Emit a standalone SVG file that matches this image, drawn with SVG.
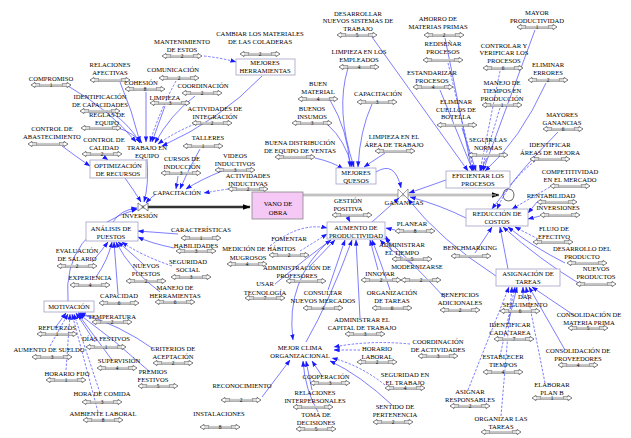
<svg xmlns="http://www.w3.org/2000/svg" width="631" height="438" viewBox="0 0 631 438">
<defs>
<style>
text{font-family:"Liberation Serif","Times New Roman",serif;font-size:6.6px;fill:#000;text-anchor:middle}
.n{font-size:5.3px}
.c{fill:none;stroke:#4646ff;stroke-width:0.7;marker-end:url(#a)}
.d{stroke-dasharray:2.5,1.5}
.bx{fill:#fff;stroke:#a0a0c4;stroke-width:0.8}
</style>
<marker id="a" viewBox="0 0 8 6" refX="7.5" refY="3" markerWidth="6" markerHeight="4.5" orient="auto" markerUnits="userSpaceOnUse"><path d="M0,0L8,3L0,6z" fill="#1a1aff"/></marker>
<marker id="k" viewBox="0 0 8 6" refX="7.5" refY="3" markerWidth="8" markerHeight="6" orient="auto" markerUnits="userSpaceOnUse"><path d="M0,0L8,3L0,6z" fill="#000"/></marker>
<symbol id="s" viewBox="0 0 40 6" width="40" height="6" overflow="visible">
<path d="M0,3L4,0.4V1.8H9V4.2H4V5.6Z M40,3L36,0.4V1.8H31V4.2H36V5.6Z" fill="#fff" stroke="#000" stroke-width="0.5"/>
<rect x="9" y="1.9" width="22" height="2.2" fill="#c8c8c8"/>
<path d="M9,4.4H31" stroke="#555" stroke-width="0.5"/>
</symbol>
</defs>
<rect width="631" height="438" fill="#fff"/>

<g id="flows">
<path d="M138,207H250" stroke="#333" stroke-width="2.6" fill="none" marker-end="url(#k)"/>
<path d="M303,195H499" stroke="#9a9a9a" stroke-width="2.4" fill="none" marker-end="url(#k)"/>
<path d="M303,195H496" stroke="#fff" stroke-width="0.8" fill="none"/>
<path d="M505,190q-4,5 0,10M512,190q4,5 0,10M505,190q3.5,-2 7,0M505,200q3.5,2 7,0" stroke="#000" stroke-width="0.6" fill="#fff"/>
<path d="M398,189L408,199L408,189L398,199Z" fill="#fff" stroke="#777" stroke-width="0.7"/>
<path d="M138,203L148,211L148,203L138,211Z" fill="#fff" stroke="#555" stroke-width="0.7"/>
</g>

<g id="connectors">
<path class="c" d="M68,86Q110,110 136,142"/>
<path class="c" d="M120,82Q132,110 140,142"/>
<path class="c d" d="M176,81Q160,110 150,142"/>
<path class="c" d="M146,92L146,142"/>
<path class="c" d="M165,106Q158,125 152,142"/>
<path class="c" d="M195,96Q170,115 155,143"/>
<path class="c d" d="M195,124Q175,132 158,144"/>
<path class="c" d="M262,76Q220,120 162,146"/>
<path class="c" d="M112,113Q130,125 140,143"/>
<path class="c" d="M118,128Q132,132 142,143"/>
<path class="c d" d="M204,56Q222,58 236,62"/>
<path class="c" d="M62,146Q78,158 90,166"/>
<path class="c" d="M104,157L108,160"/>
<path class="c" d="M147,159Q149,185 144,202"/>
<path class="c" d="M125,178Q135,192 141,202"/>
<path class="c" d="M156,194Q150,198 146,203"/>
<path class="c" d="M200,149Q188,170 180,189"/>
<path class="c" d="M178,176L176,189"/>
<path class="c" d="M222,171Q200,180 186,189"/>
<path class="c d" d="M228,189Q215,191 204,193"/>
<path class="c" d="M113,222Q120,210 137,208"/>
<path class="c" d="M68,301Q62,232 137,209"/>
<path class="c" d="M92,262Q102,250 108,242"/>
<path class="c" d="M96,277Q108,260 112,242"/>
<path class="c" d="M143,264Q128,250 118,242"/>
<path class="c" d="M178,234L138,231"/>
<path class="c" d="M174,248Q150,243 138,237"/>
<path class="c d" d="M172,266Q140,255 122,242"/>
<path class="c" d="M160,292Q130,270 116,242"/>
<path class="c" d="M118,294Q116,268 114,242"/>
<path class="c" d="M92,318L78,313"/>
<path class="c" d="M55,328L66,313"/>
<path class="c" d="M95,342L76,313"/>
<path class="c d" d="M50,346L68,314"/>
<path class="c" d="M112,360L78,314"/>
<path class="c d" d="M66,370L70,314"/>
<path class="c" d="M155,350Q120,325 80,313"/>
<path class="c" d="M150,372Q115,340 79,314"/>
<path class="c d" d="M100,393L74,314"/>
<path class="c d" d="M98,412L72,314"/>
<path class="c" d="M330,100Q348,130 350,167"/>
<path class="c" d="M328,125Q345,140 352,167"/>
<path class="c" d="M348,68Q335,110 354,167"/>
<path class="c" d="M372,104Q360,130 358,167"/>
<path class="c" d="M315,158Q333,162 343,169"/>
<path class="c" d="M385,153L364,167"/>
<path class="c" d="M376,172Q395,160 401,188"/>
<path class="c" d="M372,37L468,171"/>
<path class="c" d="M445,38L472,171"/>
<path class="c d" d="M448,63L474,171"/>
<path class="c" d="M440,90L473,171"/>
<path class="c" d="M462,128L476,171"/>
<path class="c d" d="M500,71L480,171"/>
<path class="c d" d="M500,108L481,171"/>
<path class="c" d="M535,30L483,171"/>
<path class="c" d="M546,83Q520,140 485,171"/>
<path class="c" d="M487,158L480,171"/>
<path class="c" d="M446,180L409,193"/>
<path class="c d" d="M535,161Q510,180 497,209"/>
<path class="c" d="M558,132Q520,170 492,209"/>
<path class="c d" d="M550,187L512,209"/>
<path class="c" d="M537,202L528,213"/>
<path class="c" d="M540,216L528,219"/>
<path class="c d" d="M538,239L515,227"/>
<path class="c" d="M565,263Q530,245 508,227"/>
<path class="c" d="M580,284Q540,260 503,227"/>
<path class="c" d="M475,253L492,227"/>
<path class="c" d="M466,218Q440,205 410,197"/>
<path class="c" d="M508,269L500,227"/>
<path class="c" d="M496,276Q440,240 408,199"/>
<path class="c" d="M523,298L523,287"/>
<path class="c" d="M575,316L532,287"/>
<path class="c" d="M508,324L517,287"/>
<path class="c" d="M565,350L529,287"/>
<path class="c d" d="M500,356L515,287"/>
<path class="c d" d="M545,383L526,287"/>
<path class="c d" d="M501,416L512,287"/>
<path class="c d" d="M468,390L509,287"/>
<path class="c" d="M372,222L399,198"/>
<path class="c" d="M348,218L350,222"/>
<path class="c" d="M395,230L386,228"/>
<path class="c" d="M392,252L386,236"/>
<path class="c" d="M412,264Q390,250 380,240"/>
<path class="c" d="M378,270L370,240"/>
<path class="c" d="M390,290Q380,260 372,240"/>
<path class="c" d="M360,318L356,240"/>
<path class="c" d="M328,290L345,240"/>
<path class="c" d="M310,266L335,240"/>
<path class="c" d="M275,284Q310,255 331,240"/>
<path class="c d" d="M300,251Q318,240 327,234"/>
<path class="c d" d="M270,246Q300,222 327,228"/>
<path class="c" d="M445,298Q410,260 385,238"/>
<path class="c" d="M306,342Q330,300 352,240"/>
<path class="c" d="M330,240Q285,280 293,340"/>
<path class="c" d="M262,397L290,360"/>
<path class="c" d="M322,376L312,361"/>
<path class="c" d="M312,390L306,361"/>
<path class="c" d="M318,412Q305,390 303,361"/>
<path class="c" d="M392,405Q360,375 330,361"/>
<path class="c d" d="M385,385Q360,365 332,358"/>
<path class="c d" d="M360,350L334,350"/>
<path class="c d" d="M410,344Q370,340 334,347"/>
</g>

<g id="compromiso"><text x="51" y="80.5">COMPROMISO</text><use href="#s" x="31" y="82"/><text class="n" x="51" y="87">1</text></g>
<g id="relaciones-afectivas"><text x="110" y="67">RELACIONES</text><text x="110" y="74.5">AFECTIVAS</text><use href="#s" x="90" y="77"/></g>
<g id="comunicacion"><text x="173" y="71.5">COMUNICACIÓN</text><use href="#s" x="159" y="75"/><text class="n" x="179" y="80">2</text></g>
<g id="cohesion"><text x="141" y="84.5">COHESIÓN</text><use href="#s" x="125" y="86"/><text class="n" x="145" y="91">8</text></g>
<g id="mantenimiento"><text x="182" y="44">MANTENIMIENTO</text><text x="182" y="51.5">DE ESTOS</text><use href="#s" x="162" y="53"/><text class="n" x="182" y="58">2</text></g>
<g id="cambiar"><text x="260" y="35.5">CAMBIAR LOS MATERIALES</text><text x="260" y="43.5">DE LAS COLADERAS</text><use href="#s" x="240" y="51"/><text class="n" x="260" y="56">2</text></g>
<g id="mejores-herramientas"><rect class="bx" x="236" y="59" width="59" height="16"/><text x="265" y="65">MEJORES</text><text x="265" y="72.5">HERRAMIENTAS</text></g>
<g id="identificacion"><text x="100" y="99">IDENTIFICACIÓN</text><text x="100" y="106.5">DE CAPACIDADES</text><use href="#s" x="80" y="108"/></g>
<g id="reglas"><text x="107" y="117">REGLAS DE</text><text x="107" y="124.5">EQUIPO</text><use href="#s" x="81" y="125"/></g>
<g id="limpieza"><text x="165" y="99.5">LIMPIEZA</text><use href="#s" x="150" y="100"/><text class="n" x="170" y="105">3</text></g>
<g id="coordinacion"><text x="203" y="87.5">COORDINACIÓN</text><use href="#s" x="182" y="90"/><text class="n" x="202" y="95">2</text></g>
<g id="act-integracion"><text x="215" y="110.5">ACTIVIDADES DE</text><text x="215" y="119">INTEGRACIÓN</text><use href="#s" x="192" y="120"/><text class="n" x="212" y="125">2</text></g>
<g id="talleres"><text x="208" y="139.5">TALLERES</text><use href="#s" x="183" y="143"/><text class="n" x="203" y="148">1</text></g>
<g id="control-abastecimiento"><text x="52" y="130.5">CONTROL DE</text><text x="52" y="139">ABASTECIMIENTO</text><use href="#s" x="28" y="141"/></g>
<g id="control-calidad"><text x="104" y="142">CONTROL DE</text><text x="104" y="149.5">CALIDAD</text><use href="#s" x="82" y="151"/><text class="n" x="102" y="156">2</text></g>
<g id="trabajo-equipo"><text x="147" y="150">TRABAJO EN</text><text x="147" y="157.5">EQUIPO</text></g>
<g id="optimizacion"><rect class="bx" x="90" y="160" width="56" height="18"/><text x="118" y="167.5">OPTIMIZACIÓN</text><text x="118" y="175.5">DE RECURSOS</text></g>
<g id="cursos"><text x="182" y="160.5">CURSOS DE</text><text x="182" y="168.5">INDUCCIÓN</text><use href="#s" x="161" y="170"/><text class="n" x="181" y="175">3</text></g>
<g id="videos"><text x="235" y="157.5">VIDEOS</text><text x="235" y="165.5">INDUCTIVOS</text><use href="#s" x="215" y="167"/><text class="n" x="235" y="172">3</text></g>
<g id="act-inductivas"><text x="248" y="177.5">ACTIVIDADES</text><text x="248" y="185.5">INDUCTIVAS</text><use href="#s" x="228" y="186"/><text class="n" x="248" y="191">2</text></g>
<g id="capacitacion"><text x="177" y="194.5">CAPACITACIÓN</text></g>
<g id="vano-obra"><rect x="252" y="192" width="51" height="27" fill="#f6c8f6" stroke="#888" stroke-width="0.8"/><text x="278" y="205.5">VANO DE</text><text x="278" y="214.5">OBRA</text></g>
<g id="inversion"><text x="140" y="217.5">INVERSIÓN</text></g>
<g id="analisis"><rect class="bx" x="86" y="222" width="52" height="19"/><text x="111" y="230.5">ANÁLISIS DE</text><text x="111" y="238.5">PUESTOS</text></g>
<g id="caracteristicas"><text x="201" y="231.5">CARACTERÍSTICAS</text><use href="#s" x="181" y="235"/><text class="n" x="201" y="240">1</text></g>
<g id="habilidades"><text x="196" y="247.5">HABILIDADES</text><use href="#s" x="176" y="248"/><text class="n" x="196" y="253">3</text></g>
<g id="evaluacion"><text x="77" y="252.5">EVALUACIÓN</text><text x="77" y="260.5">DE SALARIO</text><use href="#s" x="57" y="263"/><text class="n" x="77" y="268">2</text></g>
<g id="seguridad-social"><text x="188" y="264">SEGURIDAD</text><text x="188" y="271.5">SOCIAL</text><use href="#s" x="171" y="274"/><text class="n" x="191" y="279">3</text></g>
<g id="nuevos-puestos"><text x="146" y="268">NUEVOS</text><text x="146" y="275.5">PUESTOS</text><use href="#s" x="126" y="278"/><text class="n" x="146" y="283">2</text></g>
<g id="experiencia"><text x="90" y="279.5">EXPERIENCIA</text><use href="#s" x="70" y="282"/><text class="n" x="90" y="287">4</text></g>
<g id="manejo-herramientas"><text x="175" y="290">MANEJO DE</text><text x="175" y="297.5">HERRAMIENTAS</text><use href="#s" x="155" y="299"/><text class="n" x="175" y="304">6</text></g>
<g id="capacidad"><text x="119" y="297.5">CAPACIDAD</text><use href="#s" x="99" y="300"/><text class="n" x="119" y="305">6</text></g>
<g id="motivacion"><rect class="bx" x="44" y="301" width="50" height="11"/><text x="69" y="308.5">MOTIVACIÓN</text></g>
<g id="temperatura"><text x="112" y="318.5">TEMPERATURA</text><use href="#s" x="92" y="319"/><text class="n" x="112" y="324">2</text></g>
<g id="refuerzos"><text x="57" y="329.5">REFUERZOS</text><use href="#s" x="37" y="331"/><text class="n" x="57" y="336">1</text></g>
<g id="dias-festivos"><text x="106" y="340.5">DÍAS FESTIVOS</text><use href="#s" x="86" y="344"/><text class="n" x="106" y="349">1</text></g>
<g id="aumento-sueldo"><text x="49" y="351.5">AUMENTO DE SUELDO</text><use href="#s" x="32" y="354"/><text class="n" x="52" y="359">3</text></g>
<g id="criterios"><text x="173" y="350.5">CRITERIOS DE</text><text x="173" y="358.5">ACEPTACIÓN</text><use href="#s" x="153" y="360"/><text class="n" x="173" y="365">2</text></g>
<g id="supervision"><text x="119" y="362.5">SUPERVISIÓN</text><use href="#s" x="97" y="365"/><text class="n" x="117" y="370">4</text></g>
<g id="premios"><text x="153" y="374">PREMIOS</text><text x="153" y="381.5">FESTIVOS</text><use href="#s" x="138" y="383"/><text class="n" x="158" y="388">5</text></g>
<g id="horario-fijo"><text x="67" y="375.5">HORARIO FIJO</text><use href="#s" x="46" y="377"/><text class="n" x="66" y="382">1</text></g>
<g id="hora-comida"><text x="102" y="395.5">HORA DE COMIDA</text><use href="#s" x="82" y="399"/><text class="n" x="102" y="404">3</text></g>
<g id="ambiente"><text x="103" y="415.5">AMBIENTE LABORAL</text><use href="#s" x="83" y="417"/><text class="n" x="103" y="422">8</text></g>
<g id="reconocimiento"><text x="242" y="387.5">RECONOCIMIENTO</text><use href="#s" x="221" y="397"/><text class="n" x="241" y="402">2</text></g>
<g id="instalaciones"><text x="219" y="415.5">INSTALACIONES</text><use href="#s" x="200" y="424"/><text class="n" x="220" y="429">8</text></g>
<g id="desarrollar"><text x="358" y="15.5">DESARROLLAR</text><text x="358" y="23">NUEVOS SISTEMAS DE</text><text x="358" y="30.5">TRABAJO</text><use href="#s" x="337" y="32"/><text class="n" x="357" y="37">5</text></g>
<g id="ahorro"><text x="438" y="20.5">AHORRO DE</text><text x="438" y="29">MATERIAS PRIMAS</text><use href="#s" x="424" y="32"/><text class="n" x="444" y="37">2</text></g>
<g id="redisenar"><text x="443" y="45.5">REDISEÑAR</text><text x="443" y="54">PROCESOS</text><use href="#s" x="423" y="57"/></g>
<g id="limpieza-empleados"><text x="359" y="54">LIMPIEZA EN LOS</text><text x="359" y="61.5">EMPLEADOS</text><use href="#s" x="339" y="64"/><text class="n" x="359" y="69">4</text></g>
<g id="estandarizar"><text x="432" y="74.5">ESTANDARIZAR</text><text x="432" y="82.5">PROCESOS</text><use href="#s" x="413" y="84"/><text class="n" x="433" y="89">4</text></g>
<g id="buen-material"><text x="318" y="85.5">BUEN</text><text x="318" y="94">MATERIAL</text><use href="#s" x="298" y="96"/><text class="n" x="318" y="101">4</text></g>
<g id="capacitacion2"><text x="378" y="95.5">CAPACITACIÓN</text><use href="#s" x="357" y="99"/><text class="n" x="377" y="104">3</text></g>
<g id="buenos-insumos"><text x="312" y="110.5">BUENOS</text><text x="312" y="118.5">INSUMOS</text><use href="#s" x="292" y="120"/><text class="n" x="312" y="125">3</text></g>
<g id="eliminar-cuellos"><text x="456" y="104">ELIMINAR</text><text x="456" y="111.5">CUELLOS DE</text><text x="456" y="119">BOTELLA</text><use href="#s" x="437" y="122"/></g>
<g id="buena-distribucion"><text x="300" y="144.5">BUENA DISTRIBUCIÓN</text><text x="300" y="152.5">DE EQUIPO DE VENTAS</text><use href="#s" x="275" y="154"/></g>
<g id="limpieza-area"><text x="394" y="139">LIMPIEZA EN EL</text><text x="394" y="146.5">ÁREA DE TRABAJO</text><use href="#s" x="375" y="148"/></g>
<g id="mejores-quesos"><rect class="bx" x="336" y="168" width="40" height="16"/><text x="356" y="174.5">MEJORES</text><text x="356" y="182.5">QUESOS</text></g>
<g id="mayor-productividad"><text x="537" y="15">MAYOR</text><text x="537" y="22.5">PRODUCTIVIDAD</text><use href="#s" x="517" y="24"/><text class="n" x="537" y="29">1</text></g>
<g id="controlar"><text x="504" y="47.5">CONTROLAR Y</text><text x="504" y="55">VERIFICAR LOS</text><text x="504" y="62.5">PROCESOS</text><use href="#s" x="483" y="65"/><text class="n" x="503" y="70">6</text></g>
<g id="eliminar-errores"><text x="548" y="67">ELIMINAR</text><text x="548" y="74.5">ERRORES</text><use href="#s" x="528" y="77"/><text class="n" x="548" y="82">2</text></g>
<g id="manejo-tiempos"><text x="502" y="84.5">MANEJO DE</text><text x="502" y="92.5">TIEMPOS EN</text><text x="502" y="100.5">PRODUCCIÓN</text><use href="#s" x="482" y="102"/><text class="n" x="502" y="107">1</text></g>
<g id="mayores-ganancias"><text x="562" y="117">MAYORES</text><text x="562" y="124.5">GANANCIAS</text><use href="#s" x="543" y="126"/><text class="n" x="563" y="131">6</text></g>
<g id="seguir-normas"><text x="488" y="142">SEGUIR LAS</text><text x="488" y="149.5">NORMAS</text><use href="#s" x="468" y="152"/></g>
<g id="identificar-areas"><text x="550" y="146.5">IDENTIFICAR</text><text x="550" y="154.5">ÁREAS DE MEJORA</text><use href="#s" x="530" y="156"/></g>
<g id="eficientar"><rect class="bx" x="446" y="171" width="64" height="17"/><text x="478" y="177.5">EFICIENTAR LOS</text><text x="478" y="185.5">PROCESOS</text></g>
<g id="competitividad"><text x="570" y="174">COMPETITIVIDAD</text><text x="570" y="181.5">EN EL MERCADO</text><use href="#s" x="550" y="183"/></g>
<g id="rentabilidad"><text x="551" y="197.5">RENTABILIDAD</text><use href="#s" x="537" y="199"/></g>
<g id="inversiones"><text x="558" y="209.5">INVERSIONES</text><use href="#s" x="540" y="212"/></g>
<g id="reduccion"><rect class="bx" x="466" y="209" width="62" height="17"/><text x="497" y="216">REDUCCIÓN DE</text><text x="497" y="223.5">COSTOS</text></g>
<g id="flujo"><text x="554" y="230.5">FLUJO DE</text><text x="554" y="238.5">EFECTIVO</text><use href="#s" x="533" y="239"/></g>
<g id="desarrollo-producto"><text x="582" y="250.5">DESARROLLO DEL</text><text x="582" y="258.5">PRODUCTO</text><use href="#s" x="567" y="260"/></g>
<g id="nuevos-productos"><text x="596" y="270.5">NUEVOS</text><text x="596" y="279">PRODUCTOS</text><use href="#s" x="576" y="281"/></g>
<g id="benchmarking"><text x="470" y="249.5">BENCHMARKING</text><use href="#s" x="451" y="253"/></g>
<g id="asignacion"><rect class="bx" x="496" y="269" width="64" height="17"/><text x="528" y="275.5">ASIGNACIÓN DE</text><text x="528" y="283.5">TAREAS</text></g>
<g id="ganancias"><text x="404" y="204.5">GANANCIAS</text></g>
<g id="gestion"><text x="348" y="203">GESTIÓN</text><text x="348" y="210.5">POSITIVA</text><use href="#s" x="332" y="212"/></g>
<g id="aumento-productividad"><rect class="bx" x="327" y="222" width="58" height="17"/><text x="356" y="229.5">AUMENTO DE</text><text x="356" y="237.5">PRODUCTIVIDAD</text></g>
<g id="planear"><text x="412" y="225.5">PLANEAR</text><use href="#s" x="395" y="228"/><text class="n" x="415" y="233">8</text></g>
<g id="admin-tiempo"><text x="402" y="247">ADMINISTRAR</text><text x="402" y="254.5">EL TIEMPO</text><use href="#s" x="392" y="256"/><text class="n" x="412" y="261">5</text></g>
<g id="modernizarse"><text x="417" y="268.5">MODERNIZARSE</text><use href="#s" x="401" y="277"/><text class="n" x="421" y="282">2</text></g>
<g id="innovar"><text x="380" y="276">INNOVAR</text><use href="#s" x="361" y="277"/><text class="n" x="381" y="282">2</text></g>
<g id="fomentar"><text x="289" y="240.5">FOMENTAR</text><use href="#s" x="269" y="252"/><text class="n" x="289" y="257">2</text></g>
<g id="medicion"><text x="259" y="250.5">MEDICIÓN DE HÁBITOS</text><text x="248" y="259.5">MUGROSOS</text><use href="#s" x="227" y="261"/><text class="n" x="247" y="266">4</text></g>
<g id="admin-profesores"><text x="297" y="270">ADMINISTRACIÓN DE</text><text x="297" y="277.5">PROFESORES</text><use href="#s" x="286" y="278"/></g>
<g id="usar-tecnologia"><text x="265" y="286">USAR</text><text x="265" y="294.5">TECNOLOGÍA</text><use href="#s" x="245" y="295"/><text class="n" x="265" y="300">7</text></g>
<g id="consultar"><text x="323" y="294.5">CONSULTAR</text><text x="323" y="302.5">NUEVOS MERCADOS</text><use href="#s" x="303" y="305"/><text class="n" x="323" y="310">4</text></g>
<g id="organizacion-tareas"><text x="392" y="294.5">ORGANIZACIÓN</text><text x="392" y="302.5">DE TAREAS</text><use href="#s" x="372" y="305"/><text class="n" x="392" y="310">6</text></g>
<g id="beneficios"><text x="460" y="296.5">BENEFICIOS</text><text x="460" y="304.5">ADICIONALES</text><use href="#s" x="440" y="307"/><text class="n" x="460" y="312">2</text></g>
<g id="admin-capital"><text x="362" y="321.5">ADMINISTRAR EL</text><text x="362" y="330">CAPITAL DE TRABAJO</text><use href="#s" x="345" y="331"/><text class="n" x="365" y="336">3</text></g>
<g id="mejor-clima"><text x="300" y="349.5">MEJOR CLIMA</text><text x="300" y="357.5">ORGANIZACIONAL</text></g>
<g id="coordinacion-act"><text x="438" y="344">COORDINACIÓN</text><text x="438" y="351.5">DE ACTIVIDADES</text><use href="#s" x="418" y="353"/><text class="n" x="438" y="358">3</text></g>
<g id="horario-laboral"><text x="377" y="350.5">HORARIO</text><text x="377" y="358.5">LABORAL</text><use href="#s" x="357" y="359"/><text class="n" x="377" y="364">2</text></g>
<g id="seguridad-trabajo"><text x="405" y="376.5">SEGURIDAD EN</text><text x="405" y="384.5">EL TRABAJO</text><use href="#s" x="385" y="385"/><text class="n" x="405" y="390">4</text></g>
<g id="cooperacion"><text x="326" y="378.5">COOPERACIÓN</text><use href="#s" x="310" y="380"/><text class="n" x="330" y="385">3</text></g>
<g id="relaciones-inter"><text x="315" y="394.5">RELACIONES</text><text x="315" y="402.5">INTERPERSONALES</text><use href="#s" x="293" y="404"/></g>
<g id="toma-decisiones"><text x="316" y="416.5">TOMA DE</text><text x="316" y="424.5">DECISIONES</text><use href="#s" x="296" y="426"/><text class="n" x="316" y="431">5</text></g>
<g id="sentido"><text x="395" y="409">SENTIDO DE</text><text x="395" y="416.5">PERTENENCIA</text><use href="#s" x="373" y="419"/><text class="n" x="393" y="424">2</text></g>
<g id="asignar-resp"><text x="470" y="394">ASIGNAR</text><text x="470" y="401.5">RESPONSABLES</text><use href="#s" x="450" y="403"/><text class="n" x="470" y="408">2</text></g>
<g id="dar-seguimiento"><text x="525" y="299">DAR</text><text x="525" y="306.5">SEGUIMIENTO</text><use href="#s" x="500" y="308"/><text class="n" x="520" y="313">6</text></g>
<g id="consolidacion-mp"><text x="589" y="316.5">CONSOLIDACIÓN DE</text><text x="589" y="324.5">MATERIA PRIMA</text><use href="#s" x="568" y="325"/><text class="n" x="588" y="330">5</text></g>
<g id="identificar-tarea"><text x="510" y="327">IDENTIFICAR</text><text x="510" y="334.5">CADA TAREA</text><use href="#s" x="494" y="336"/><text class="n" x="514" y="341">7</text></g>
<g id="consolidacion-prov"><text x="578" y="352.5">CONSOLIDACIÓN DE</text><text x="578" y="360.5">PROVEEDORES</text><use href="#s" x="558" y="362"/><text class="n" x="578" y="367">4</text></g>
<g id="establecer"><text x="503" y="359">ESTABLECER</text><text x="503" y="366.5">TIEMPOS</text><use href="#s" x="483" y="369"/><text class="n" x="503" y="374">4</text></g>
<g id="elaborar"><text x="552" y="386.5">ELABORAR</text><text x="552" y="394.5">PLAN B</text><use href="#s" x="532" y="395"/><text class="n" x="552" y="400">1</text></g>
<g id="organizar-tareas"><text x="501" y="420.5">ORGANIZAR LAS</text><text x="501" y="428.5">TAREAS</text><use href="#s" x="481" y="429"/></g>
</svg>
